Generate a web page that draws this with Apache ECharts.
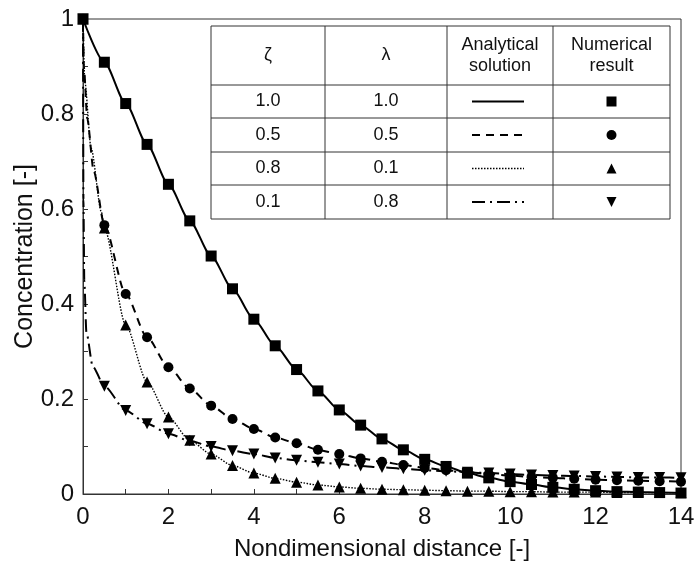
<!DOCTYPE html>
<html>
<head>
<meta charset="utf-8">
<script src="https://cdn.jsdelivr.net/npm/echarts@6/dist/echarts.min.js"></script>
<style>html,body{margin:0;padding:0;background:#fff}#c{width:696px;height:568px}</style>
</head>
<body>
<div id="c"></div>
<script>
// ---- data ----
const xNum = [0,0.5,1,1.5,2,2.5,3,3.5,4,4.5,5,5.5,6,6.5,7,7.5,8,8.5,9,9.5,10,10.5,11,11.5,12,12.5,13,13.5,14];
const sqVals = [1.0,0.909,0.822,0.736,0.652,0.575,0.501,0.432,0.368,0.312,0.262,0.217,0.177,0.145,0.116,0.093,0.073,0.058,0.044,0.034,0.026,0.020,0.014,0.010,0.007,0.005,0.004,0.003,0.002];
const circVals = [1.0,0.566,0.421,0.330,0.267,0.222,0.186,0.158,0.137,0.119,0.107,0.093,0.084,0.075,0.068,0.061,0.055,0.050,0.046,0.042,0.039,0.036,0.034,0.032,0.030,0.029,0.028,0.027,0.026];
const triVals = [1.0,0.56,0.356,0.236,0.162,0.113,0.084,0.060,0.044,0.033,0.025,0.019,0.015,0.012,0.010,0.009,0.008,0.007,0.006,0.006,0.005,0.005,0.004,0.004,0.004,0.003,0.003,0.003,0.003];
const invVals = [1.0,0.227,0.176,0.148,0.127,0.112,0.100,0.091,0.084,0.076,0.071,0.067,0.063,0.059,0.056,0.053,0.050,0.048,0.046,0.044,0.042,0.040,0.039,0.038,0.037,0.036,0.035,0.035,0.034];

// analytical curves near x = 0 (steep part)
const solidHeadX = [0];            const solidHeadY = [1.0];
const dashHeadX  = [0,0.02,0.1,0.25]; const dashHeadY  = [1.0,0.9,0.79,0.68];
const dotHeadX   = [0,0.04,0.19,0.43]; const dotHeadY   = [1.0,0.87,0.728,0.594];
const ddHeadX    = [0,0.01,0.03,0.08,0.23]; const ddHeadY = [1.0,0.62,0.45,0.34,0.268];

const tableHeader = ['ζ','λ','Analytical\nsolution','Numerical\nresult'];
const tableZeta   = ['1.0','0.5','0.8','0.1'];
const tableLambda = ['1.0','0.5','0.1','0.8'];

const xTicks = {min:0, max:14, interval:2};
const yTicks = {min:0, max:1, interval:0.2};

// ---- build ----
function pairs(xs, ys){ return xs.map((x,i)=>[x, ys[i]]); }
function curve(hx, hy, vals){ return pairs(hx, hy).concat(pairs(xNum.slice(1), vals.slice(1))); }

const FONT = "'Liberation Sans', Arial, sans-serif";
const chart = echarts.init(document.getElementById('c'));

const lineBase = {type:'line', showSymbol:false, silent:true, smooth:0.25, smoothMonotone:'x', z:2};
const scatBase = {type:'scatter', silent:true, itemStyle:{color:'#000', opacity:1}, z:3};

// legend table geometry (graphic only)
const tL=211, tR=670, tT=26;
const colX=[211,325,447,553,670];
const rowY=[26,85,118,152,185,219];
const g=[];
g.push({type:'rect', shape:{x:tL,y:tT,width:tR-tL,height:219-26}, style:{fill:'#fff',stroke:'#333',lineWidth:1}, z:10});
for(let i=1;i<4;i++) g.push({type:'line', shape:{x1:colX[i],y1:tT,x2:colX[i],y2:219}, style:{stroke:'#333',lineWidth:1}, z:11});
for(let j=1;j<5;j++) g.push({type:'line', shape:{x1:tL,y1:rowY[j],x2:tR,y2:rowY[j]}, style:{stroke:'#333',lineWidth:1}, z:11});
for(let i=0;i<4;i++){
  g.push({type:'text', x:(colX[i]+colX[i+1])/2, y:(rowY[0]+rowY[1])/2, style:{text:tableHeader[i], fill:'#111', font:'18px '+FONT, align:'center', verticalAlign:'middle', lineHeight:21}, z:12});
}
const lineDashes=[null,[8,6],[1.5,1.5],[13,5,2,5]];
const lineWidths=[2,2,1.4,2];
for(let j=0;j<4;j++){
  const cy=(rowY[j+1]+rowY[j+2])/2;
  g.push({type:'text', x:(colX[0]+colX[1])/2, y:cy, style:{text:tableZeta[j], fill:'#111', font:'18px '+FONT, align:'center', verticalAlign:'middle'}, z:12});
  g.push({type:'text', x:(colX[1]+colX[2])/2, y:cy, style:{text:tableLambda[j], fill:'#111', font:'18px '+FONT, align:'center', verticalAlign:'middle'}, z:12});
  g.push({type:'line', shape:{x1:472,y1:cy,x2:524,y2:cy}, style:{stroke:'#000',lineWidth:lineWidths[j],lineDash:lineDashes[j]}, z:12});
}
const mx=(colX[3]+colX[4])/2;
let cy0=(rowY[1]+rowY[2])/2;
g.push({type:'rect', shape:{x:mx-5,y:cy0-5,width:10,height:10}, style:{fill:'#000'}, z:12});
cy0=(rowY[2]+rowY[3])/2;
g.push({type:'circle', shape:{cx:mx,cy:cy0,r:5}, style:{fill:'#000'}, z:12});
cy0=(rowY[3]+rowY[4])/2;
g.push({type:'polygon', shape:{points:[[mx,cy0-5],[mx+5,cy0+5],[mx-5,cy0+5]]}, style:{fill:'#000'}, z:12});
cy0=(rowY[4]+rowY[5])/2;
g.push({type:'polygon', shape:{points:[[mx-5,cy0-5],[mx+5,cy0-5],[mx,cy0+5]]}, style:{fill:'#000'}, z:12});

const axisCommon = {
  axisLine:{show:true, lineStyle:{color:'#333', width:1}},
  axisTick:{show:true, inside:true, length:5, lineStyle:{color:'#333'}},
  minorTick:{show:true, splitNumber:2, length:5, lineStyle:{color:'#333'}},
  splitLine:{show:false},
  nameLocation:'middle',
  nameMoveOverlap:false,
  nameTextStyle:{color:'#111', fontSize:24, fontFamily:FONT}
};

chart.setOption({
  animation:false,
  backgroundColor:'#fff',
  grid:{left:83, right:15, top:19, bottom:74, show:true, borderColor:'#333', borderWidth:1, backgroundColor:'transparent', containLabel:false, outerBoundsMode:'none'},
  xAxis: Object.assign({type:'value', min:xTicks.min, max:xTicks.max, interval:xTicks.interval, name:'Nondimensional distance [-]', nameGap:43}, axisCommon, {axisLabel:{color:'#111', fontSize:24, fontFamily:FONT, margin:11}}),
  yAxis: Object.assign({type:'value', min:yTicks.min, max:yTicks.max, interval:yTicks.interval, name:'Concentration [-]', nameGap:45}, axisCommon, {axisLabel:{color:'#111', fontSize:24, fontFamily:FONT, margin:9}, nameTextStyle:{color:'#111', fontSize:25, fontFamily:FONT}}),
  graphic: g,
  series:[
    Object.assign({}, lineBase, {data:curve(solidHeadX, solidHeadY, sqVals), lineStyle:{color:'#000', width:2, type:'solid'}}),
    Object.assign({}, lineBase, {data:curve(dashHeadX, dashHeadY, circVals), lineStyle:{color:'#000', width:2, type:[8,6]}}),
    Object.assign({}, lineBase, {data:curve(dotHeadX, dotHeadY, triVals), lineStyle:{color:'#000', width:1.4, type:[1.5,1.5]}}),
    Object.assign({}, lineBase, {data:curve(ddHeadX, ddHeadY, invVals), lineStyle:{color:'#000', width:2, type:[13,5,2,5]}}),
    Object.assign({}, scatBase, {data:pairs(xNum, triVals), symbol:'triangle', symbolSize:11}),
    Object.assign({}, scatBase, {data:pairs(xNum, invVals), symbol:'triangle', symbolRotate:180, symbolSize:11}),
    Object.assign({}, scatBase, {data:pairs(xNum, circVals), symbol:'circle', symbolSize:10}),
    Object.assign({}, scatBase, {data:pairs(xNum, sqVals), symbol:'rect', symbolSize:11})
  ]
});
</script>
</body>
</html>
